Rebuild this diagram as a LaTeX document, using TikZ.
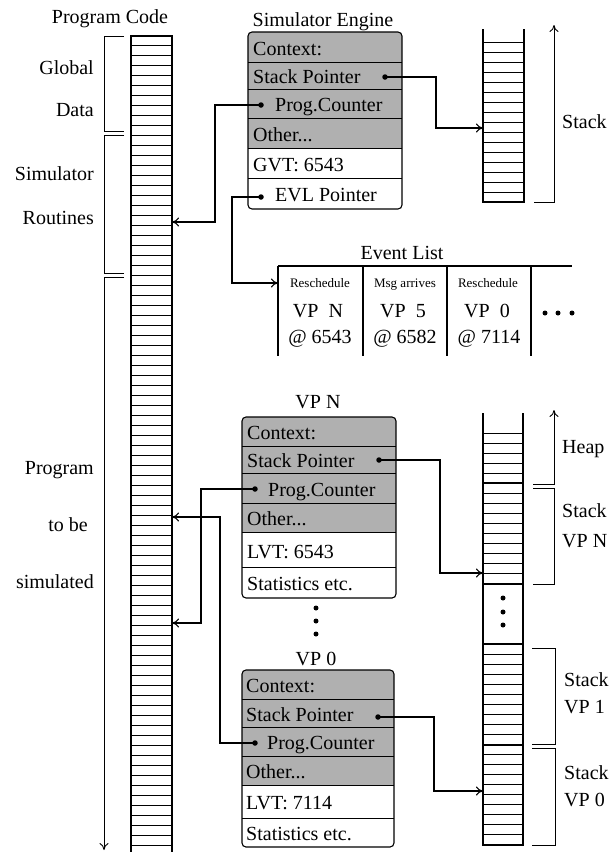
\documentclass[tikz,border=0pt]{standalone}
\usepackage{fontspec}
\setmainfont{Liberation Serif}
\usetikzlibrary{arrows.meta}
\newcommand\myfs{\fontsize{20}{24}\selectfont}
\newcommand\myfss{\fontsize{13}{15}\selectfont}
\definecolor{boxgray}{RGB}{176,176,176}
\begin{document}
\begin{tikzpicture}[x=1pt,y=-1pt,
  ln/.style={line width=1.1pt},
  sepl/.style={line width=0.8pt},
  stripe/.style={line width=0.6pt},
  brk/.style={line width=0.9pt},
  tip/.style={-{To[length=7pt,width=9pt]}},
  arr/.style={line width=1.1pt,-{To[length=7pt,width=9pt]}},
  dotn/.style={circle,fill=black,inner sep=0pt,minimum size=5.5pt},
  smalldot/.style={circle,fill=black,inner sep=0pt,minimum size=5pt},
  lbl/.style={font=\myfs,inner sep=0pt},
  sml/.style={font=\myfss,inner sep=0pt}]
\useasboundingbox (0,0) rectangle (609,852);

% ---------- Program code column ----------
\draw[ln] (131,852) -- (131,36) -- (172,36) -- (172,852);
\foreach \y in {45,55,...,845} \draw[stripe] (131,\y) -- (172,\y);
\node[lbl,anchor=base] (pcode) at (110,23) {Program Code};

% brackets
\draw[brk] (124,36) -- (104,36) -- (104,131) -- (124,131);
\draw[brk] (124,135) -- (104,135) -- (104,273) -- (124,273);
\draw[brk,tip] (124,277) -- (104,277) -- (104,850);

\node[lbl,anchor=base east] (lglob) at (94,74) {Global};
\node[lbl,anchor=base east] (ldata) at (94,116) {Data};
\node[lbl,anchor=base east] (lsim) at (94,180) {Simulator};
\node[lbl,anchor=base east] (lrout) at (94,224) {Routines};
\node[lbl,anchor=base east] (lprog) at (94,474) {Program};
\node[lbl,anchor=base east] (ltobe) at (88,531) {to be};
\node[lbl,anchor=base east] (lsimd) at (94,588) {simulated};

\coordinate (pcA) at (172,222);
\coordinate (pcB) at (172,623);
\coordinate (pcC) at (172,517);

% ---------- Simulator Engine ----------
\node[lbl,anchor=base] (seT) at (323,26) {Simulator Engine};
\begin{scope}
  \clip[rounded corners=4pt] (248,32) rectangle (402,209);
  \fill[boxgray] (248,32) rectangle (402,148);
\end{scope}
\foreach \y in {62,89,118,148,178} \draw[sepl] (248,\y) -- (402,\y);
\draw[ln,rounded corners=4pt] (248,32) rectangle (402,209);
\node[lbl,anchor=base west] (sCtx) at (253,55) {Context:};
\node[lbl,anchor=base west] (sSPt) at (253,83) {Stack Pointer};
\node[lbl,anchor=base west] (sPCt) at (275,111) {Prog.Counter};
\node[lbl,anchor=base west] (sOth) at (253,141) {Other...};
\node[lbl,anchor=base west] (sGVT) at (253,171) {GVT: 6543};
\node[lbl,anchor=base west] (sEVt) at (275,201) {EVL Pointer};
\node[dotn] (sSP) at (385,77) {};
\node[dotn] (sPC) at (261,105) {};
\node[dotn] (sEVL) at (261,197) {};

% ---------- top stack ----------
\draw[ln] (483,29) -- (483,202) -- (524,202) -- (524,29);
\foreach \y in {42,52,...,192} \draw[stripe] (483,\y) -- (524,\y);
\draw[brk,tip] (534,202) -- (554,202) -- (554,25);
\node[lbl,anchor=base west] (stkL) at (562,128) {Stack};
\coordinate (stkA) at (483,128);

\draw[arr] (sSP.center) -- (436,77) -- (436,128) -- (stkA);
\draw[arr] (sPC.center) -- (215,105) -- (215,222) -- (pcA);

% ---------- Event list ----------
\node[lbl,anchor=base] (evT) at (402,259) {Event List};
\draw[ln] (278,266) -- (572,266);
\foreach \x in {278,363,447,531} \draw[ln] (\x,266) -- (\x,356);
\coordinate (evA) at (278,283);
\draw[arr] (sEVL.center) -- (232,197) -- (232,283) -- (evA);

\node[sml,anchor=base] (e1a) at (320,287) {Reschedule};
\node[lbl,anchor=base] (e1b) at (318,317) {VP\ \ N};
\node[lbl,anchor=base] (e1c) at (320,343) {@ 6543};
\node[sml,anchor=base] (e2a) at (405,287) {Msg arrives};
\node[lbl,anchor=base] (e2b) at (403,317) {VP\ \ 5};
\node[lbl,anchor=base] (e2c) at (405,343) {@ 6582};
\node[sml,anchor=base] (e3a) at (488,287) {Reschedule};
\node[lbl,anchor=base] (e3b) at (487,317) {VP\ \ 0};
\node[lbl,anchor=base] (e3c) at (489,343) {@ 7114};
\node[smalldot] (ed1) at (545,313) {};
\node[smalldot] (ed2) at (558,313) {};
\node[smalldot] (ed3) at (572,313) {};

% ---------- VP N ----------
\node[lbl,anchor=base] (nT) at (318,408) {VP N};
\begin{scope}
  \clip[rounded corners=4pt] (242,417) rectangle (396,598);
  \fill[boxgray] (242,417) rectangle (396,532);
\end{scope}
\foreach \y in {446,473,503,532,567} \draw[sepl] (242,\y) -- (396,\y);
\draw[ln,rounded corners=4pt] (242,417) rectangle (396,598);
\node[lbl,anchor=base west] (nCtx) at (247,439) {Context:};
\node[lbl,anchor=base west] (nSPt) at (247,467) {Stack Pointer};
\node[lbl,anchor=base west] (nPCt) at (268,496) {Prog.Counter};
\node[lbl,anchor=base west] (nOth) at (247,525) {Other...};
\node[lbl,anchor=base west] (nLVT) at (247,558) {LVT: 6543};
\node[lbl,anchor=base west] (nSta) at (247,590) {Statistics etc.};
\node[dotn] (nSP) at (379,460) {};
\node[dotn] (nPC) at (255,489) {};

% middle dots
\node[smalldot] (md1) at (316,608) {};
\node[smalldot] (md2) at (316,621) {};
\node[smalldot] (md3) at (316,634) {};

% ---------- VP 0 ----------
\node[lbl,anchor=base] (zT) at (316,665) {VP 0};
\begin{scope}
  \clip[rounded corners=4pt] (242,670) rectangle (394,847);
  \fill[boxgray] (242,670) rectangle (394,785);
\end{scope}
\foreach \y in {699,727,756,785,818} \draw[sepl] (242,\y) -- (394,\y);
\draw[ln,rounded corners=4pt] (242,670) rectangle (394,847);
\node[lbl,anchor=base west] (zCtx) at (246,692) {Context:};
\node[lbl,anchor=base west] (zSPt) at (246,721) {Stack Pointer};
\node[lbl,anchor=base west] (zPCt) at (267,749) {Prog.Counter};
\node[lbl,anchor=base west] (zOth) at (246,778) {Other...};
\node[lbl,anchor=base west] (zLVT) at (246,809) {LVT: 7114};
\node[lbl,anchor=base west] (zSta) at (246,840) {Statistics etc.};
\node[dotn] (zSP) at (378,717) {};
\node[dotn] (zPC) at (255,743) {};

% ---------- lower stack ----------
\draw[ln] (483,413) -- (483,845) -- (523,845) -- (523,413);
\foreach \y in {433,443,...,583} \draw[stripe] (483,\y) -- (523,\y);
\foreach \y in {654,664,...,834} \draw[stripe] (483,\y) -- (523,\y);
\foreach \y in {483,584,644,745} \draw[ln] (483,\y) -- (523,\y);
\node[smalldot] (sd1) at (503,598) {};
\node[smalldot] (sd2) at (503,612) {};
\node[smalldot] (sd3) at (503,625) {};

\draw[brk,tip] (533,484) -- (554,484) -- (554,410);
\draw[brk] (533,488) -- (554,488) -- (554,584) -- (533,584);
\draw[brk] (532,648) -- (555,648) -- (555,744) -- (532,744);
\draw[brk] (532,748) -- (555,748) -- (555,845) -- (532,845);

\node[lbl,anchor=base west] (hp) at (562,453) {Heap};
\node[lbl,anchor=base west] (sN1) at (562,517) {Stack};
\node[lbl,anchor=base west] (sN2) at (562,547) {VP N};
\node[lbl,anchor=base west] (s11) at (564,686) {Stack};
\node[lbl,anchor=base west] (s12) at (564,713) {VP 1};
\node[lbl,anchor=base west] (s01) at (564,779) {Stack};
\node[lbl,anchor=base west] (s02) at (564,806) {VP 0};

\coordinate (nstkA) at (483,573);
\coordinate (zstkA) at (483,791);

\draw[arr] (nSP.center) -- (440,460) -- (440,573) -- (nstkA);
\draw[arr] (nPC.center) -- (201,489) -- (201,623) -- (pcB);
\draw[arr] (zSP.center) -- (434,717) -- (434,791) -- (zstkA);
\draw[arr] (zPC.center) -- (220,743) -- (220,517) -- (pcC);
\end{tikzpicture}
\end{document}
